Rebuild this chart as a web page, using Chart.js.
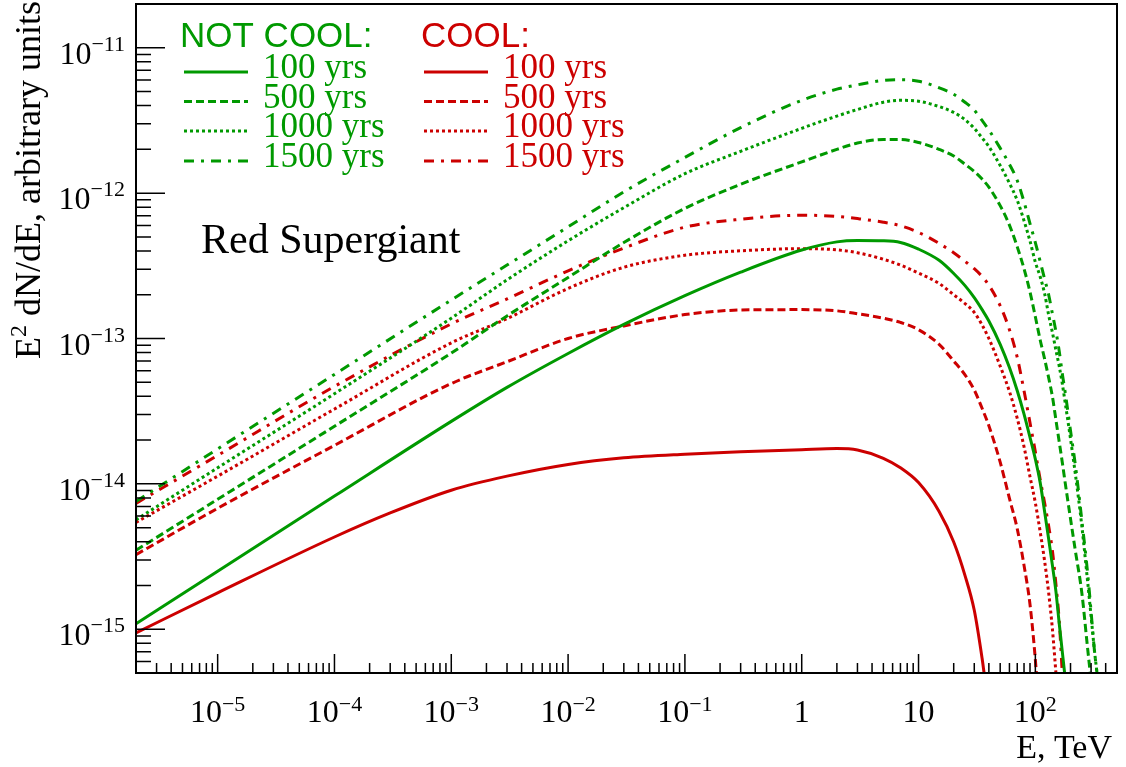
<!DOCTYPE html>
<html><head><meta charset="utf-8">
<script src="https://cdn.jsdelivr.net/npm/chart.js@4.4.1/dist/chart.umd.min.js"></script>
<style>html,body{margin:0;padding:0;background:#fff;}canvas{display:block;}</style>
</head><body>
<canvas id="c" width="1126" height="767"></canvas>
<script>
// ---------------- data ----------------
const groupTitles = ['NOT COOL:', 'COOL:'];
const ageLabels = ['100 yrs', '500 yrs', '1000 yrs', '1500 yrs'];
const xTickValues = [1e-5, 1e-4, 1e-3, 1e-2, 1e-1, 1, 10, 100];
const xTickLabels = ['10^−5', '10^−4', '10^−3', '10^−2', '10^−1', '1', '10', '10^2'];
const yTickValues = [1e-15, 1e-14, 1e-13, 1e-12, 1e-11];
const yTickLabels = ['10^−15', '10^−14', '10^−13', '10^−12', '10^−11'];
const xTitle = 'E, TeV';
const yTitle = 'E^2 dN/dE, arbitrary units';
const annotation = 'Red Supergiant';

// NOT COOL (green)
const E_nc100 = [2e-6,1e-5,1e-4,1e-3,3e-3,0.01,0.03,0.1,0.3,1,2,3,5,7,10,15,20,25,30,35,40,50,60,70,80,90,100,110,120,130,140,150,160,178];
const F_nc100 = [1.09e-15,2.51e-15,8.24e-15,2.69e-14,4.61e-14,7.89e-14,1.25e-13,1.97e-13,2.86e-13,4.06e-13,4.62e-13,4.72e-13,4.70e-13,4.58e-13,4.12e-13,3.45e-13,2.80e-13,2.31e-13,1.91e-13,1.58e-13,1.32e-13,9.12e-14,6.31e-14,4.37e-14,3.02e-14,2.09e-14,1.48e-14,1.02e-14,6.46e-15,4.17e-15,2.75e-15,1.82e-15,1.10e-15,5.01e-16];

const E_nc500 = [2e-6,1e-5,1e-4,1e-3,3e-3,0.01,0.03,0.1,0.3,1,2,3,5,7,10,15,20,25,30,35,40,50,60,70,80,90,100,110,120,130,140,150,160,170,180,200,220,250,280,295];
const F_nc500 = [3.49e-15,7.83e-15,2.49e-14,7.94e-14,1.43e-13,2.63e-13,4.57e-13,7.85e-13,1.15e-12,1.64e-12,2.00e-12,2.21e-12,2.34e-12,2.34e-12,2.23e-12,2.00e-12,1.80e-12,1.58e-12,1.41e-12,1.25e-12,1.10e-12,8.20e-13,6.03e-13,4.27e-13,3.02e-13,2.09e-13,1.41e-13,9.77e-14,7.24e-14,5.37e-14,3.98e-14,2.75e-14,1.95e-14,1.41e-14,1.02e-14,5.75e-15,3.47e-15,1.78e-15,7.41e-16,5.01e-16];

const E_nc1000 = [2e-6,1e-5,1e-4,1e-3,3e-3,0.01,0.03,0.1,0.3,1,2,3,5,7,10,15,20,25,30,35,40,50,60,70,80,90,100,110,120,130,140,150,160,170,180,200,220,250,280,300,320,337];
const F_nc1000 = [5.66e-15,1.29e-14,4.17e-14,1.38e-13,2.53e-13,4.70e-13,7.94e-13,1.36e-12,1.94e-12,2.79e-12,3.39e-12,3.76e-12,4.22e-12,4.35e-12,4.29e-12,3.94e-12,3.59e-12,3.20e-12,2.79e-12,2.40e-12,2.09e-12,1.55e-12,1.17e-12,8.91e-13,6.46e-13,4.68e-13,3.35e-13,2.66e-13,2.04e-13,1.45e-13,1.10e-13,8.32e-14,6.46e-14,4.90e-14,3.63e-14,2.04e-14,1.17e-14,5.13e-15,2.14e-15,1.23e-15,7.24e-16,5.01e-16];

const E_nc1500 = [2e-6,1e-5,1e-4,1e-3,3e-3,0.01,0.03,0.1,0.3,1,2,3,5,7,10,15,20,25,30,35,40,50,60,70,80,90,100,110,120,130,140,150,160,170,180,200,220,250,280,300,320,337];
const F_nc1500 = [7.57e-15,1.74e-14,5.66e-14,1.84e-13,3.20e-13,5.86e-13,1.02e-12,1.76e-12,2.82e-12,4.35e-12,5.19e-12,5.56e-12,5.96e-12,6.03e-12,5.89e-12,5.31e-12,4.79e-12,4.22e-12,3.72e-12,3.16e-12,2.72e-12,2.04e-12,1.58e-12,1.22e-12,8.71e-13,6.17e-13,4.57e-13,3.39e-13,2.57e-13,2.00e-13,1.48e-13,1.12e-13,8.22e-14,5.75e-14,4.27e-14,2.32e-14,1.35e-14,5.62e-15,2.45e-15,1.32e-15,7.24e-16,5.01e-16];

// COOL (red)
const E_c100 = [2e-6,1e-5,1e-4,3e-4,1e-3,3e-3,0.01,0.03,0.1,0.3,1,2,3,5,7,10,15,20,25,30,35,36.4];
const F_c100 = [9.44e-16,1.78e-15,4.31e-15,6.31e-15,9.04e-15,1.13e-14,1.36e-14,1.51e-14,1.60e-14,1.66e-14,1.72e-14,1.75e-14,1.71e-14,1.50e-14,1.29e-14,1.02e-14,6.46e-15,3.98e-15,2.34e-15,1.35e-15,6.31e-16,5.01e-16];

const E_c500 = [2e-6,1e-5,1e-4,1e-3,3e-3,0.01,0.03,0.1,0.3,1,2,3,5,7,10,15,20,25,30,35,40,50,60,70,80,90,100,102];
const F_c500 = [3.26e-15,6.79e-15,1.84e-14,4.90e-14,6.92e-14,1.00e-13,1.22e-13,1.46e-13,1.57e-13,1.58e-13,1.55e-13,1.48e-13,1.38e-13,1.29e-13,1.15e-13,9.12e-14,7.00e-14,5.62e-14,4.42e-14,3.31e-14,2.51e-14,1.41e-14,7.94e-15,4.90e-15,2.75e-15,1.48e-15,6.19e-16,5.0e-16];

const E_c1000 = [2e-6,1e-5,1e-4,1e-3,3e-3,0.01,0.03,0.1,0.3,1,2,3,5,7,10,15,20,25,30,35,40,50,60,70,80,90,100,110,120,130,140,150];
const F_c1000 = [5.43e-15,1.13e-14,3.27e-14,9.33e-14,1.37e-13,2.21e-13,3.09e-13,3.74e-13,4.01e-13,4.15e-13,4.07e-13,3.89e-13,3.51e-13,3.20e-13,2.82e-13,2.39e-13,2.00e-13,1.74e-13,1.51e-13,1.24e-13,1.00e-13,6.46e-14,4.32e-14,2.82e-14,1.80e-14,1.12e-14,7.41e-15,4.68e-15,2.95e-15,1.78e-15,1.00e-15,5.01e-16];

const E_c1500 = [2e-6,1e-5,1e-4,1e-3,3e-3,0.01,0.03,0.1,0.3,1,2,3,5,7,10,15,20,25,30,35,40,50,60,70,80,90,100,110,120,130,140,150,160,170];
const F_c1500 = [7.34e-15,1.57e-14,4.68e-14,1.26e-13,1.87e-13,2.92e-13,4.19e-13,5.83e-13,6.61e-13,7.05e-13,6.92e-13,6.68e-13,6.31e-13,5.96e-13,5.37e-13,4.51e-13,3.89e-13,3.39e-13,3.02e-13,2.67e-13,2.33e-13,1.68e-13,1.15e-13,7.41e-14,4.37e-14,2.63e-14,1.66e-14,1.07e-14,7.41e-15,5.13e-15,3.47e-15,2.04e-15,1.15e-15,5.01e-16];

// ---------------- styles ----------------
const GREEN = 'rgb(0,153,0)';
const RED = 'rgb(204,0,0)';
const DASHES = [[], [8, 4], [3, 3], [10, 7, 3, 7]];
const SERIF = '"Liberation Serif", "Times New Roman", serif';
const SANS = '"Liberation Sans", Arial, sans-serif';

const groups = [
  {title: groupTitles[0], color: GREEN, E: [E_nc100, E_nc500, E_nc1000, E_nc1500], F: [F_nc100, F_nc500, F_nc1000, F_nc1500]},
  {title: groupTitles[1], color: RED,   E: [E_c100, E_c500, E_c1000, E_c1500],     F: [F_c100, F_c500, F_c1000, F_c1500]}
];

const datasets = [];
groups.forEach(g => {
  ageLabels.forEach((age, i) => {
    datasets.push({
      label: g.title + ' ' + age,
      data: g.E[i].map((e, k) => ({x: e, y: g.F[i][k]})),
      borderColor: g.color,
      backgroundColor: g.color,
      borderWidth: 3,
      borderDash: DASHES[i],
      borderCapStyle: 'butt',
      pointRadius: 0,
      fill: false,
      cubicInterpolationMode: 'monotone',
      clip: 0
    });
  });
});

// rich text: '^' starts a superscript running to the next space or end
function richParts(str) {
  const parts = [];
  let i = 0, buf = '';
  while (i < str.length) {
    if (str[i] === '^') {
      if (buf) parts.push({t: buf, sup: false});
      buf = '';
      i++;
      let s = '';
      while (i < str.length && str[i] !== ' ') { s += str[i]; i++; }
      parts.push({t: s, sup: true});
    } else { buf += str[i]; i++; }
  }
  if (buf) parts.push({t: buf, sup: false});
  return parts;
}
function drawRich(ctx, str, x, y, align, size, supSize, raise, family) {
  const parts = richParts(str);
  let total = 0;
  parts.forEach(p => { ctx.font = (p.sup ? supSize : size) + 'px ' + family; p.w = ctx.measureText(p.t).width; total += p.w; });
  let cx = align === 'center' ? x - total / 2 : (align === 'right' ? x - total : x);
  ctx.textAlign = 'left';
  ctx.textBaseline = 'alphabetic';
  parts.forEach(p => {
    ctx.font = (p.sup ? supSize : size) + 'px ' + family;
    ctx.fillText(p.t, cx, p.sup ? y - raise : y);
    cx += p.w;
  });
  return total;
}

const rootStyle = {
  id: 'rootStyle',
  afterDraw(chart) {
    const ctx = chart.ctx;
    const a = chart.chartArea;
    const xs = chart.scales.x, ys = chart.scales.y;
    ctx.save();
    ctx.strokeStyle = '#000';
    ctx.fillStyle = '#000';
    // ticks (inward)
    ctx.lineWidth = 1.5;
    ctx.beginPath();
    for (let d = -17; d <= -10; d++) {
      for (let m = 1; m <= 9; m++) {
        const v = m * Math.pow(10, d);
        if (v < ys.min || v > ys.max) continue;
        const py = ys.getPixelForValue(v);
        ctx.moveTo(a.left, py);
        ctx.lineTo(a.left + (m === 1 ? 29 : 15), py);
      }
    }
    for (let d = -7; d <= 3; d++) {
      for (let m = 1; m <= 9; m++) {
        const v = m * Math.pow(10, d);
        if (v < xs.min || v > xs.max) continue;
        const px = xs.getPixelForValue(v);
        ctx.moveTo(px, a.bottom);
        ctx.lineTo(px, a.bottom - (m === 1 ? 19 : 10));
      }
    }
    ctx.stroke();
    // frame
    ctx.lineWidth = 2;
    ctx.strokeRect(a.left, a.top, a.right - a.left, a.bottom - a.top);

    // tick labels
    yTickValues.forEach((v, i) => {
      drawRich(ctx, yTickLabels[i], a.left - 11, ys.getPixelForValue(v) + 16, 'right', 32, 22, 13, SERIF);
    });
    xTickValues.forEach((v, i) => {
      drawRich(ctx, xTickLabels[i], xs.getPixelForValue(v), 722, 'center', 32, 22, 11, SERIF);
    });
    // axis titles
    drawRich(ctx, xTitle, 1112, 758, 'right', 34, 23, 12, SERIF);
    ctx.save();
    ctx.translate(40, 1);
    ctx.rotate(-Math.PI / 2);
    drawRich(ctx, yTitle, 0, 0, 'right', 36, 24, 14, SERIF);
    ctx.restore();

    // annotation
    ctx.font = '42px ' + SERIF;
    ctx.textAlign = 'left';
    ctx.fillText(annotation, 201, 253);

    // legend
    const colX = [180, 421];
    const lineX = [[184, 248], [424, 488]];
    const textX = [263, 503];
    const rowY = [72, 101.5, 131, 161];
    groups.forEach((g, gi) => {
      ctx.fillStyle = g.color;
      ctx.strokeStyle = g.color;
      ctx.font = '35px ' + SANS;
      ctx.textAlign = 'left';
      ctx.fillText(g.title, colX[gi], 47);
      ageLabels.forEach((age, i) => {
        ctx.lineWidth = 3;
        ctx.lineCap = 'butt';
        ctx.setLineDash(DASHES[i]);
        ctx.beginPath();
        ctx.moveTo(lineX[gi][0], rowY[i]);
        ctx.lineTo(lineX[gi][1], rowY[i]);
        ctx.stroke();
        ctx.setLineDash([]);
        ctx.font = '35px ' + SERIF;
        ctx.fillText(age, textX[gi], rowY[i] + 6);
      });
    });
    ctx.restore();
  }
};

new Chart(document.getElementById('c'), {
  type: 'line',
  data: {datasets: datasets},
  options: {
    responsive: false,
    animation: false,
    devicePixelRatio: 1,
    events: [],
    layout: {padding: {left: 136, right: 9, top: 4, bottom: 94}},
    plugins: {legend: {display: false}, tooltip: {enabled: false}},
    scales: {
      x: {type: 'logarithmic', min: 2e-6, max: 500, bounds: 'data', display: false},
      y: {type: 'logarithmic', min: 5e-16, max: 2e-11, bounds: 'data', display: false}
    }
  },
  plugins: [rootStyle]
});
</script>
</body></html>
